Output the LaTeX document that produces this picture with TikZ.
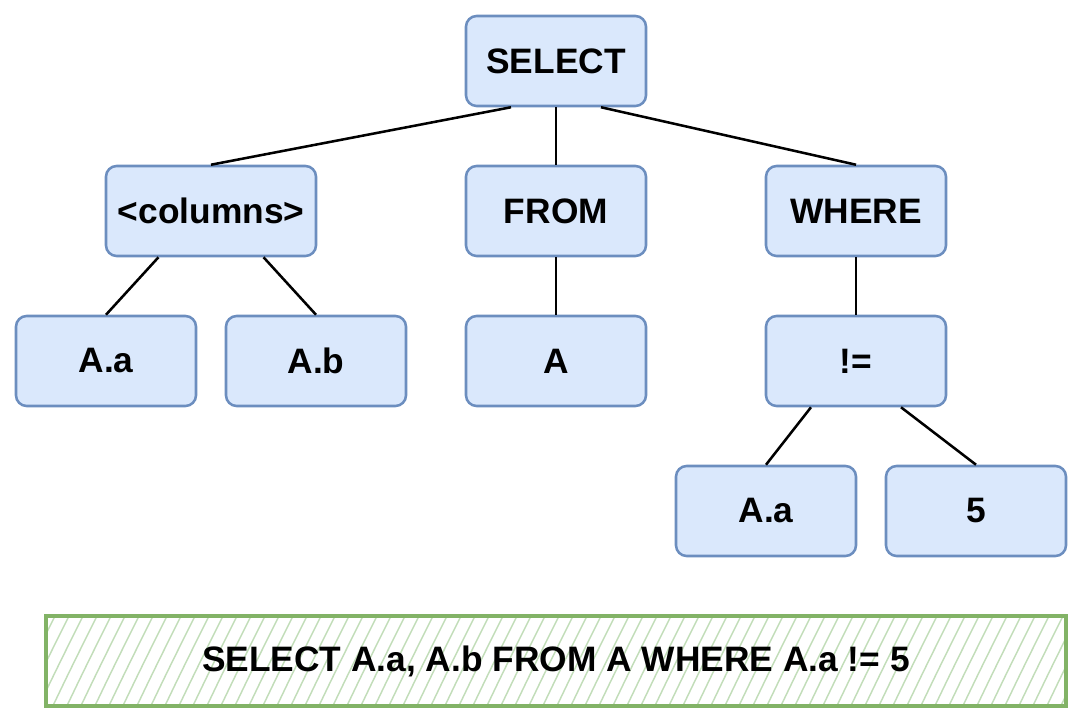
\documentclass[tikz,border=0pt]{standalone}
\usepackage{fontspec}
\setmainfont{Liberation Sans}
\definecolor{nodefill}{HTML}{DAE8FC}
\definecolor{nodedraw}{HTML}{6C8EBF}
\definecolor{greendraw}{HTML}{82B366}
\definecolor{hatch}{HTML}{C2DDB9}
\begin{document}
\begin{tikzpicture}[x=0.75pt,y=-0.75pt,
  box/.style={draw=nodedraw, fill=nodefill, line width=1.9pt, rounded corners=8pt,
    minimum width=135pt, minimum height=67.5pt, inner sep=0pt,
    font=\fontsize{26.5}{30}\selectfont\bfseries},
  wide/.style={minimum width=157.5pt},
  edge/.style={line width=1.9pt, black}]
\useasboundingbox (0,0) rectangle (1083,723);
% nodes (centers)
\node[box] (sel) at (556,61) {SELECT};
\node[box,wide] (cols) at (211,211) {<columns>};
\node[box] (from) at (556,211) {FROM};
\node[box] (where) at (856,211) {WHERE};
\node[box] (aa) at (106,361) {A.a};
\node[box] (ab) at (316,361) {A.b};
\node[box] (a) at (556,361) {A};
\node[box] (neq) at (856,361) {!=};
\node[box] (aa2) at (766,511) {A.a};
\node[box] (five) at (976,511) {5};
% edges
\draw[edge] ([xshift=-33.75pt]sel.south) -- (cols.north);
\draw[edge] (sel.south) -- (from.north);
\draw[edge] ([xshift=33.75pt]sel.south) -- (where.north);
\draw[edge] ([xshift=-39.4pt]cols.south) -- (aa.north);
\draw[edge] ([xshift=39.4pt]cols.south) -- (ab.north);
\draw[edge] (from.south) -- (a.north);
\draw[edge] (where.south) -- (neq.north);
\draw[edge] ([xshift=-33.75pt]neq.south) -- (aa2.north);
\draw[edge] ([xshift=33.75pt]neq.south) -- (five.north);
% bottom hatched box
\begin{scope}
  \clip (46,616) rectangle (1066,706);
  \foreach \i in {-20,-6,...,1120} {
    \draw[hatch, line width=1.1pt] (\i,712) .. controls (\i+20,670) and (\i+30,650) .. (\i+50,610);
  }
\end{scope}
\node[draw=greendraw, line width=2.3pt, minimum width=765pt, minimum height=67.5pt,
  inner sep=0pt, font=\fontsize{26.5}{30}\selectfont\bfseries] (sql) at (556,661)
  {SELECT A.a, A.b FROM A WHERE A.a != 5};
\end{tikzpicture}
\end{document}
